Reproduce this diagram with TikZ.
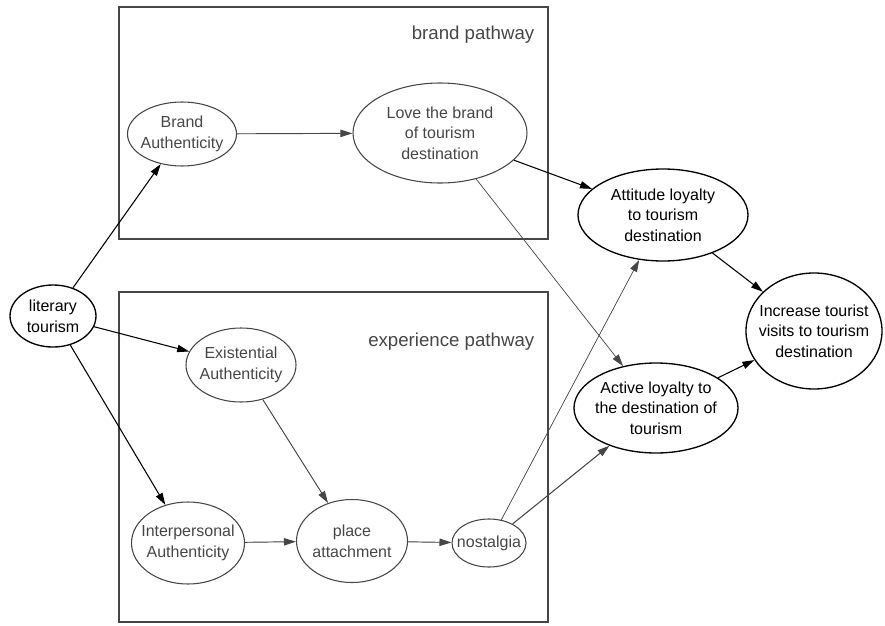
\documentclass[tikz,border=0pt]{standalone}
\usepackage{fontspec}
\setmainfont{Liberation Sans}
\usepackage{tikz}
\usetikzlibrary{shapes.geometric,arrows.meta}
\definecolor{pathgray}{RGB}{70, 70, 70}

\begin{document}
\begin{tikzpicture}[
    x=0.75pt, y=-0.75pt,
    inner/.style={ellipse, draw=pathgray, text=pathgray, line width=0.8pt, inner xsep=-6pt, inner ysep=0pt, align=center, font=\fontsize{12}{15.5}\selectfont},
    outer/.style={ellipse, draw=black, line width=1pt, inner xsep=-6pt, inner ysep=0pt, align=center, font=\fontsize{12}{15.5}\selectfont},
    pathbox/.style={draw=pathgray, line width=1pt},
    boxlabel/.style={anchor=east, text=pathgray, font=\fontsize{14}{16}\selectfont},
    gedge/.style={-{Triangle[length=9pt, width=5.5pt]}, draw=pathgray, fill=pathgray, line width=0.7pt},
    bedge/.style={-{Triangle[length=9pt, width=5.5pt]}, draw=black, line width=0.8pt}
]
    \useasboundingbox (0,0) rectangle (885,625);

    % Pathway boxes
    \draw[pathbox] (119,7) rectangle (548,239);
    \node[boxlabel] (brandlbl) at (539,35) {brand pathway};
    \draw[pathbox] (119,292) rectangle (548,622);
    \node[boxlabel] (explbl) at (539,342) {experience pathway};

    % Source
    \node[outer, minimum width=64.5pt, minimum height=46.5pt] (lit) at (53,316) {literary\\tourism};

    % Brand pathway
    \node[inner, minimum width=81.75pt, minimum height=48pt] (brandauth) at (182,134) {Brand\\Authenticity};
    \node[inner, minimum width=130.5pt, minimum height=75pt] (love) at (440,133) {Love the brand\\of tourism\\destination};

    % Experience pathway
    \node[inner, minimum width=82.5pt, minimum height=55.5pt] (exist) at (241,365) {Existential\\Authenticity};
    \node[inner, minimum width=84.75pt, minimum height=61.5pt] (inter) at (188,543) {Interpersonal\\Authenticity};
    \node[inner, minimum width=83.25pt, minimum height=62.25pt] (place) at (352,541) {place\\attachment};
    \node[inner, minimum width=55.5pt, minimum height=36pt] (nost) at (489,543) {nostalgia};

    % Loyalty and outcome
    \node[outer, minimum width=127.5pt, minimum height=69pt] (attitude) at (663,215) {Attitude loyalty\\to tourism\\destination};
    \node[outer, minimum width=123pt, minimum height=67.5pt] (active) at (656,408) {Active loyalty to\\the destination of\\tourism};
    \node[outer, minimum width=102pt, minimum height=87pt] (visits) at (814,331) {Increase tourist\\visits to tourism\\destination};

    % Edges
    \draw[bedge] (lit) -- (brandauth);
    \draw[bedge] (lit) -- (exist);
    \draw[bedge] (lit) -- (inter);
    \draw[gedge] (brandauth) -- (love);
    \draw[bedge] (love) -- (attitude);
    \draw[gedge, line width=0.5pt] (love) -- (active);
    \draw[gedge] (exist) -- (place);
    \draw[gedge] (inter) -- (place);
    \draw[gedge] (place) -- (nost);
    \draw[gedge, line width=0.5pt] (nost) -- (attitude);
    \draw[bedge, draw=pathgray] (nost) -- (active);
    \draw[bedge] (attitude) -- (visits);
    \draw[bedge] (active) -- (visits);
\end{tikzpicture}
\end{document}
